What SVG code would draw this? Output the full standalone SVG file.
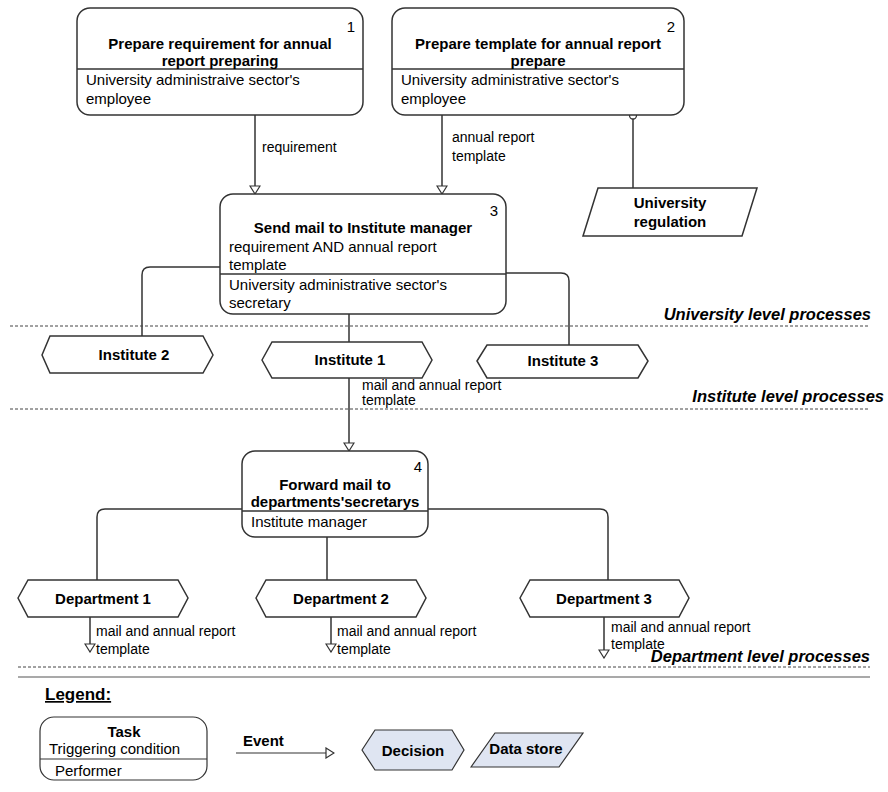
<svg xmlns="http://www.w3.org/2000/svg" width="888" height="792" viewBox="0 0 888 792">
  <defs>
    <style>
      text { font-family: "Liberation Sans", Arial, sans-serif; fill: #000; }
      .t { font-size: 15px; font-weight: bold; }
      .b { font-size: 15px; }
      .n { font-size: 15px; }
      .lbl { font-size: 14px; }
      .hx { font-size: 15px; font-weight: bold; }
      .lvl { font-size: 16.5px; font-weight: bold; font-style: italic; }
      .box { fill: #fff; stroke: #333; stroke-width: 1.5; }
      .div { stroke: #333; stroke-width: 1.5; }
      .con { fill: none; stroke: #333; stroke-width: 1.5; }
      .dash { stroke: #444; stroke-width: 1; stroke-dasharray: 3 2; }
      .lg { fill: #dfe5f2; stroke: #333; stroke-width: 1.2; }
      .lgt { font-size: 15px; }
    </style>
    <marker id="arr" viewBox="0 0 10 12" refX="9" refY="6" markerWidth="10" markerHeight="12" markerUnits="userSpaceOnUse" orient="auto">
      <path d="M1,1 L9,6 L1,11 z" fill="#fff" stroke="#333" stroke-width="1.2"/>
    </marker>
  </defs>

  <rect width="888" height="792" fill="#fff"/>

  <!-- connectors -->
  <g id="connectors">
    <path class="con" d="M255,115 V194" marker-end="url(#arr)"/>
    <path class="con" d="M442,115 V194" marker-end="url(#arr)"/>
    <path class="con" d="M633,119 V188"/>
    <circle cx="633" cy="115.5" r="3.5" fill="#fff" stroke="#333" stroke-width="1.3"/>
    <path class="con" d="M220,267 H150 Q142,267 142,275 V336"/>
    <path class="con" d="M349,314 V342"/>
    <path class="con" d="M506,273 H561 Q569,273 569,281 V345"/>
    <path class="con" d="M349,378 V451" marker-end="url(#arr)"/>
    <path class="con" d="M242,509 H105 Q97,509 97,517 V580"/>
    <path class="con" d="M327,537 V580"/>
    <path class="con" d="M428,509 H600 Q608,509 608,517 V580"/>
    <path class="con" d="M90,617 V652" marker-end="url(#arr)"/>
    <path class="con" d="M331,617 V652" marker-end="url(#arr)"/>
    <path class="con" d="M604,617 V658" marker-end="url(#arr)"/>
    <text class="lbl" x="262" y="152">requirement</text>
    <text class="lbl" x="452" y="142">annual report</text>
    <text class="lbl" x="452" y="161">template</text>
    <text class="lbl" x="362" y="390">mail and annual report</text>
    <text class="lbl" x="362" y="405">template</text>
    <text class="lbl" x="96" y="636">mail and annual report</text>
    <text class="lbl" x="96" y="654">template</text>
    <text class="lbl" x="337" y="636">mail and annual report</text>
    <text class="lbl" x="337" y="654">template</text>
    <text class="lbl" x="611" y="632">mail and annual report</text>
    <text class="lbl" x="611" y="649">template</text>
  </g>

  <!-- level separators -->
  <g id="levels">
    <line class="dash" x1="10" y1="326" x2="870" y2="326"/>
    <text class="lvl" x="871" y="320" text-anchor="end">University level processes</text>
    <line class="dash" x1="10" y1="409" x2="870" y2="409"/>
    <text class="lvl" x="884" y="402" text-anchor="end">Institute level processes</text>
    <line class="dash" x1="18" y1="667" x2="870" y2="667"/>
    <text class="lvl" x="870" y="662" text-anchor="end">Department level processes</text>
    <line x1="18" y1="677" x2="870" y2="677" stroke="#555" stroke-width="1.2"/>
  </g>

  <!-- task 1 -->
  <g id="task1">
    <rect class="box" x="77" y="8" width="286" height="107" rx="13"/>
    <line class="div" x1="77" y1="69" x2="363" y2="69"/>
    <text class="n" x="355" y="32" text-anchor="end">1</text>
    <text class="t" x="220" y="49" text-anchor="middle">Prepare requirement for annual</text>
    <text class="t" x="220" y="66" text-anchor="middle">report preparing</text>
    <text class="b" x="86" y="85">University administraive sector's</text>
    <text class="b" x="86" y="104">employee</text>
  </g>

  <!-- task 2 -->
  <g id="task2">
    <rect class="box" x="392" y="8" width="292" height="107" rx="13"/>
    <line class="div" x1="392" y1="69" x2="684" y2="69"/>
    <text class="n" x="675" y="32" text-anchor="end">2</text>
    <text class="t" x="538" y="49" text-anchor="middle">Prepare template for annual report</text>
    <text class="t" x="538" y="66" text-anchor="middle">prepare</text>
    <text class="b" x="401" y="85">University administrative sector's</text>
    <text class="b" x="401" y="104">employee</text>
  </g>

  <!-- data store: university regulation -->
  <g id="regulation">
    <polygon class="box" points="583,236 598,188 757,188 742,236"/>
    <text class="t" x="670" y="208" text-anchor="middle">University</text>
    <text class="t" x="670" y="227" text-anchor="middle">regulation</text>
  </g>

  <!-- task 3 -->
  <g id="task3">
    <rect class="box" x="220" y="194" width="286" height="120" rx="13"/>
    <line class="div" x1="220" y1="274" x2="506" y2="274"/>
    <text class="n" x="498" y="216" text-anchor="end">3</text>
    <text class="t" x="363" y="233" text-anchor="middle">Send mail to Institute manager</text>
    <text class="b" x="229" y="252">requirement AND annual report</text>
    <text class="b" x="229" y="270">template</text>
    <text class="b" x="229" y="290">University administrative sector's</text>
    <text class="b" x="229" y="308">secretary</text>
  </g>

  <!-- institutes -->
  <g id="institute2">
    <polygon class="box" points="42,355 50,336 203,336 213,355 203,373 50,373"/>
    <text class="hx" x="134" y="360" text-anchor="middle">Institute 2</text>
  </g>
  <g id="institute1">
    <polygon class="box" points="262,360 272,342 422,342 432,360 422,378 272,378"/>
    <text class="hx" x="350" y="365" text-anchor="middle">Institute 1</text>
  </g>
  <g id="institute3">
    <polygon class="box" points="477,361 487,345 638,345 648,361 638,378 487,378"/>
    <text class="hx" x="563" y="366" text-anchor="middle">Institute 3</text>
  </g>

  <!-- task 4 -->
  <g id="task4">
    <rect class="box" x="242" y="451" width="186" height="86" rx="13"/>
    <line class="div" x1="242" y1="511" x2="428" y2="511"/>
    <text class="n" x="422" y="472" text-anchor="end">4</text>
    <text class="t" x="335" y="490" text-anchor="middle">Forward mail to</text>
    <text class="t" x="335" y="507" text-anchor="middle">departments'secretarys</text>
    <text class="b" x="251" y="527">Institute manager</text>
  </g>

  <!-- departments -->
  <g id="department1">
    <polygon class="box" points="18,598 28,580 178,580 188,598 178,617 28,617"/>
    <text class="hx" x="103" y="604" text-anchor="middle">Department 1</text>
  </g>
  <g id="department2">
    <polygon class="box" points="256,598 266,580 416,580 426,598 416,617 266,617"/>
    <text class="hx" x="341" y="604" text-anchor="middle">Department 2</text>
  </g>
  <g id="department3">
    <polygon class="box" points="520,598 530,580 679,580 689,598 679,617 530,617"/>
    <text class="hx" x="604" y="604" text-anchor="middle">Department 3</text>
  </g>

  <!-- legend -->
  <g id="legend">
    <text x="45" y="700" style="font-size:17px;font-weight:bold;text-decoration:underline">Legend:</text>
    <g id="legend-task">
      <rect x="40" y="717" width="167" height="63" rx="14" fill="#fff" stroke="#333" stroke-width="1.2"/>
      <line x1="40" y1="759" x2="207" y2="759" stroke="#333" stroke-width="1.2"/>
      <text class="lgt" x="124" y="737" text-anchor="middle" font-weight="bold">Task</text>
      <text class="lgt" x="49" y="754">Triggering condition</text>
      <text class="lgt" x="55" y="776">Performer</text>
    </g>
    <g id="legend-event">
      <line x1="236" y1="753" x2="334" y2="753" stroke="#333" stroke-width="1.2" marker-end="url(#arr)"/>
      <text class="lgt" x="243" y="746" font-weight="bold">Event</text>
    </g>
    <g id="legend-decision">
      <polygon class="lg" points="362,750 375,730 452,730 464,750 452,770 375,770"/>
      <text class="lgt" x="413" y="756" text-anchor="middle" font-weight="bold">Decision</text>
    </g>
    <g id="legend-store">
      <polygon class="lg" points="471,767 495,733 583,733 559,767"/>
      <text class="lgt" x="526" y="754" text-anchor="middle" font-weight="bold">Data store</text>
    </g>
  </g>
</svg>
